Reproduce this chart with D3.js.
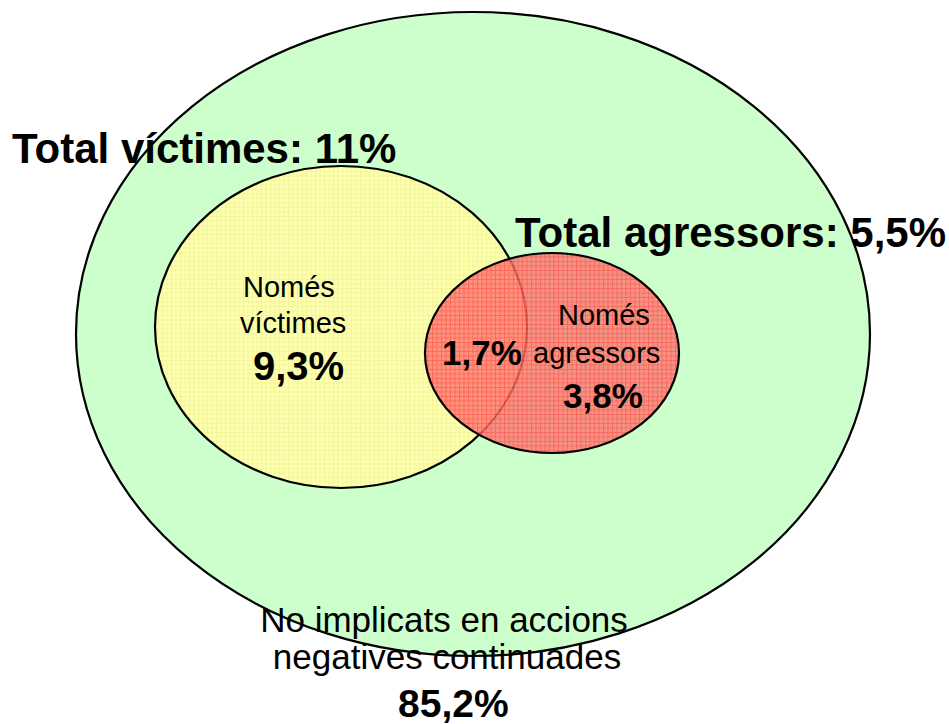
<!DOCTYPE html>
<html>
<head>
<meta charset="utf-8">
<script src="https://cdn.jsdelivr.net/npm/d3@7"></script>
<style>
  html, body { margin: 0; padding: 0; background: #fff; }
  svg { display: block; font-family: "Liberation Sans", Arial, sans-serif; }
</style>
</head>
<body>
<svg width="949" height="724"></svg>
<script>
// sets of the diagram (outer = whole sample)
const setKeys = ['total', 'victimes', 'agressors'];
const setTotals = [100, 11, 5.5];
const setTitles = ['', 'Total víctimes: 11%', 'Total agressors: 5,5%'];

// disjoint regions
const regionKeys = ['noImplicats', 'nomesVictimes', 'ambdos', 'nomesAgressors'];
const regionNames = [
  ['No implicats en accions', 'negatives continuades'],
  ['Només', 'víctimes'],
  [],
  ['Només', 'agressors']
];
const regionValues = [85.2, 9.3, 1.7, 3.8];

const fmt = v => d3.format('.1f')(v).replace(/\.0$/, '').replace('.', ',') + '%';

// layout, in pixels of the 949x724 frame
const ellipses = {
  total:     {cx: 473, cy: 334, rx: 397, ry: 322, fill: '#ccffcc', opacity: 1},
  victimes:  {cx: 341, cy: 327, rx: 186, ry: 161, fill: 'url(#gridYellow)', opacity: 1},
  agressors: {cx: 552, cy: 353, rx: 127, ry: 100, fill: 'url(#gridRed)', opacity: 0.82}
};
const titlePos = {
  victimes:  {x: 12,  y: 163},
  agressors: {x: 515, y: 247}
};
const regionPos = {
  noImplicats:    {namePos: [[444, 632], [447, 669]], anchor: 'middle', valuePos: [398, 717], size: 35, vsize: 39},
  nomesVictimes:  {namePos: [[243, 297], [240, 333]], anchor: 'start', valuePos: [253, 380], size: 29, vsize: 40},
  ambdos:         {namePos: [], anchor: 'start', valuePos: [442, 365], size: 29, vsize: 35},
  nomesAgressors: {namePos: [[558, 325], [533, 363]], anchor: 'start', valuePos: [563, 408], size: 29, vsize: 35}
};

const svg = d3.select('svg');
const defs = svg.append('defs');

function grid(id, base, line, step) {
  const p = defs.append('pattern')
    .attr('id', id)
    .attr('patternUnits', 'userSpaceOnUse')
    .attr('width', step).attr('height', step);
  p.append('rect').attr('width', step).attr('height', step).attr('fill', base);
  p.append('path')
    .attr('d', `M0,0.5H${step}M0.5,0V${step}`)
    .attr('stroke', line).attr('stroke-width', 1).attr('fill', 'none');
}
grid('gridYellow', '#ffffb0', '#f2f59a', 4.5);
grid('gridRed', '#ff7a72', '#ff4a4a', 4.5);

svg.append('g')
  .selectAll('ellipse')
  .data(setKeys.map((k, i) => ({key: k, total: setTotals[i], ...ellipses[k]})))
  .join('ellipse')
    .attr('cx', d => d.cx)
    .attr('cy', d => d.cy)
    .attr('rx', d => d.rx)
    .attr('ry', d => d.ry)
    .attr('fill', d => d.fill)
    .attr('fill-opacity', d => d.opacity)
    .attr('stroke', '#000')
    .attr('stroke-width', 2.2);

// region labels
const regions = regionKeys.map((k, i) => ({key: k, names: regionNames[i], value: regionValues[i], ...regionPos[k]}));
const rg = svg.append('g').selectAll('g').data(regions).join('g');

rg.selectAll('text.name')
  .data(d => d.names.map((n, j) => ({text: n, pos: d.namePos[j], size: d.size, anchor: d.anchor})))
  .join('text')
    .attr('class', 'name')
    .attr('x', d => d.pos[0])
    .attr('y', d => d.pos[1])
    .attr('text-anchor', d => d.anchor)
    .attr('font-size', d => d.size)
    .text(d => d.text);

rg.append('text')
  .attr('x', d => d.valuePos[0])
  .attr('y', d => d.valuePos[1])
  .attr('font-size', d => d.vsize)
  .attr('font-weight', 'bold')
  .text(d => fmt(d.value));

// set titles
svg.append('g')
  .selectAll('text')
  .data(setKeys.slice(1).map((k, i) => ({key: k, title: setTitles[i + 1]})))
  .join('text')
    .attr('x', d => titlePos[d.key].x)
    .attr('y', d => titlePos[d.key].y)
    .attr('font-size', 42)
    .attr('font-weight', 'bold')
    .text(d => d.title);
</script>
</body>
</html>
